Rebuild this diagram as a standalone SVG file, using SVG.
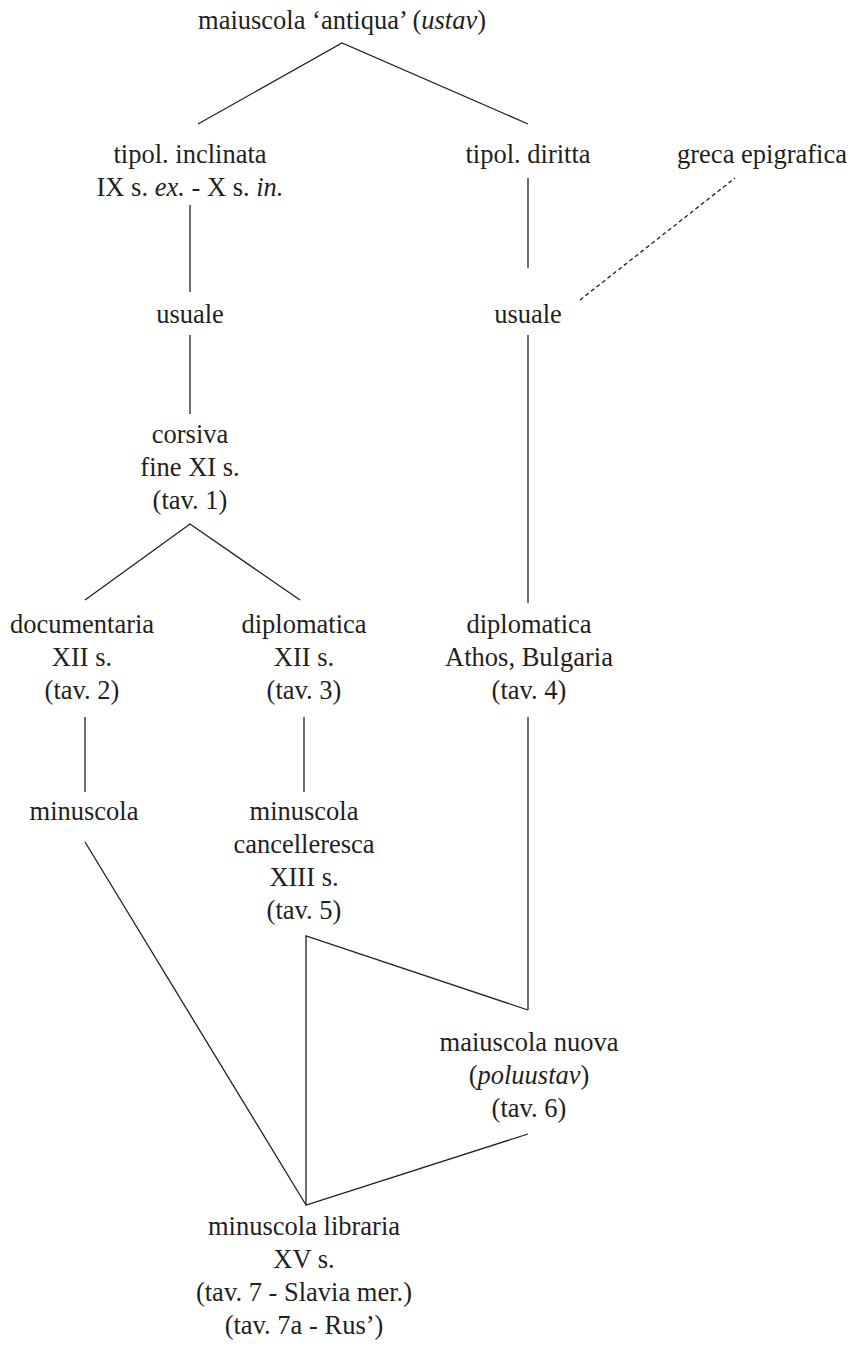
<svg xmlns="http://www.w3.org/2000/svg" width="858" height="1346" viewBox="0 0 858 1346">
<style>
text{font-family:"Liberation Serif","Times New Roman",serif;font-size:26.5px;fill:#231f20;text-anchor:middle}
.c line,.c polyline{stroke:#231f20;stroke-width:1.3;fill:none}
.d{stroke-dasharray:4 3}
</style>
<rect width="858" height="1346" fill="#fff"/>
<g class="c" id="connectors">
<polyline points="198,124 342,43 528,124"/>
<line x1="190" y1="205" x2="190" y2="292"/>
<line x1="528" y1="178" x2="528" y2="268"/>
<line class="d" x1="580" y1="300" x2="735" y2="178"/>
<line x1="190" y1="335" x2="190" y2="414"/>
<line x1="528" y1="335" x2="528" y2="603"/>
<polyline points="85,600 190,524 300,600"/>
<line x1="85" y1="717" x2="85" y2="792"/>
<line x1="304" y1="717" x2="304" y2="792"/>
<line x1="528" y1="717" x2="528" y2="1010"/>
<line x1="85" y1="842" x2="306" y2="1205"/>
<polyline points="528,1010 306,936 306,1205 528,1134"/>
</g>
<g id="n-title"><text x="342" y="29">maiuscola ‘antiqua’ (<tspan font-style="italic">ustav</tspan>)</text></g>
<g id="n-inclinata"><text x="190" y="163">tipol. inclinata</text><text x="190" y="196">IX s. <tspan font-style="italic">ex.</tspan> - X s. <tspan font-style="italic">in.</tspan></text></g>
<g id="n-diritta"><text x="528" y="163">tipol. diritta</text></g>
<g id="n-greca"><text x="762" y="163">greca epigrafica</text></g>
<g id="n-usuale1"><text x="190" y="323">usuale</text></g>
<g id="n-usuale2"><text x="528" y="323">usuale</text></g>
<g id="n-corsiva"><text x="190" y="443">corsiva</text><text x="190" y="476">fine XI s.</text><text x="190" y="509">(tav. 1)</text></g>
<g id="n-documentaria"><text x="82" y="633">documentaria</text><text x="82" y="666">XII s.</text><text x="82" y="699">(tav. 2)</text></g>
<g id="n-diplomatica1"><text x="304" y="633">diplomatica</text><text x="304" y="666">XII s.</text><text x="304" y="699">(tav. 3)</text></g>
<g id="n-diplomatica2"><text x="529" y="633">diplomatica</text><text x="529" y="666">Athos, Bulgaria</text><text x="529" y="699">(tav. 4)</text></g>
<g id="n-minuscola"><text x="84" y="820">minuscola</text></g>
<g id="n-cancelleresca"><text x="304" y="820">minuscola</text><text x="304" y="853">cancelleresca</text><text x="304" y="886">XIII s.</text><text x="304" y="919">(tav. 5)</text></g>
<g id="n-nuova"><text x="529" y="1051">maiuscola nuova</text><text x="529" y="1084">(<tspan font-style="italic">poluustav</tspan>)</text><text x="529" y="1117">(tav. 6)</text></g>
<g id="n-libraria"><text x="304" y="1235">minuscola libraria</text><text x="304" y="1268">XV s.</text><text x="304" y="1301">(tav. 7 - Slavia mer.)</text><text x="304" y="1334">(tav. 7a - Rus’)</text></g>
</svg>
